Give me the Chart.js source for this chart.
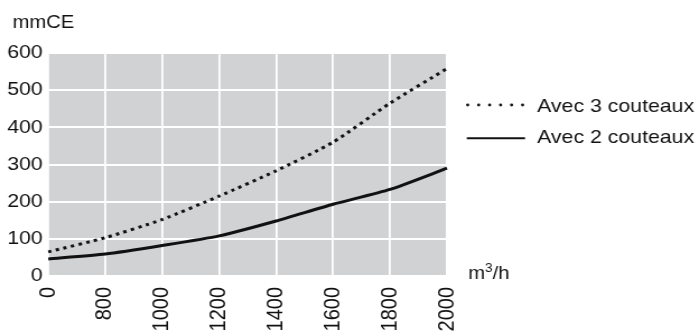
<!DOCTYPE html>
<html>
<head>
<meta charset="utf-8">
<script src="https://cdn.jsdelivr.net/npm/chart.js@4/dist/chart.umd.min.js"></script>
<style>
  html, body { margin: 0; padding: 0; background: #fff; overflow: hidden; }
  #wrap { width: 699px; height: 333px; overflow: hidden; }
  /* the whole figure is drawn slightly narrow and widened horizontally */
  #c { display: block; transform: scaleX(1.1202); transform-origin: 0 0; }
</style>
</head>
<body>
<div id="wrap"><canvas id="c" width="624" height="333"></canvas></div>
<script>
// Débit (m³/h)
const categories = ['0', '800', '1000', '1200', '1400', '1600', '1800', '2000'];
// Perte de charge (mmCE)
const avec3Couteaux = [65, 103, 152, 215, 283, 360, 465, 558];
const avec2Couteaux = [46, 59, 82, 108, 148, 193, 233, 290];
const yMin = 0, yMax = 600, yStep = 100;

const FONT = '"Liberation Sans", Arial, sans-serif';
const INK = '#111111';
const PLOT_BG = '#d1d2d4';

const plotBackground = {
  id: 'plotBackground',
  beforeDraw(chart) {
    const { ctx, chartArea: a } = chart;
    ctx.save();
    ctx.fillStyle = PLOT_BG;
    ctx.fillRect(a.left, a.top, a.right - a.left, a.bottom - a.top);
    ctx.restore();
  }
};

const annotations = {
  id: 'annotations',
  afterDraw(chart) {
    const { ctx } = chart;
    ctx.save();
    ctx.fillStyle = INK;
    ctx.strokeStyle = INK;
    ctx.textBaseline = 'alphabetic';
    ctx.textAlign = 'left';

    // axis titles
    ctx.font = '18px ' + FONT;
    ctx.fillText('mmCE', 11.3, 27.7);
    ctx.fillText('m', 418, 279);
    const mW = ctx.measureText('m').width;
    ctx.font = '12px ' + FONT;
    ctx.fillText('3', 418 + mW, 272);
    const sW = ctx.measureText('3').width;
    ctx.font = '18px ' + FONT;
    ctx.fillText('/h', 418 + mW + sW, 279);

    // legend
    for (let i = 0; i < 6; i++) {
      ctx.beginPath();
      ctx.arc(417.5 + i * 9.8, 105, 1.4, 0, Math.PI * 2);
      ctx.fill();
    }
    ctx.lineWidth = 2;
    ctx.beginPath();
    ctx.moveTo(416.7, 138.3);
    ctx.lineTo(468.7, 138.3);
    ctx.stroke();

    ctx.font = '19px ' + FONT;
    ctx.fillText('Avec 3 couteaux', 479.5, 111.7);
    ctx.fillText('Avec 2 couteaux', 479.5, 143.3);
    ctx.restore();
  }
};

new Chart(document.getElementById('c'), {
  type: 'line',
  data: {
    labels: categories,
    datasets: [
      {
        label: 'Avec 3 couteaux',
        data: avec3Couteaux,
        borderColor: '#111',
        borderWidth: 3,
        borderDash: [3, 4],
        borderCapStyle: 'butt',
        pointRadius: 0,
        tension: 0.2,
        fill: false
      },
      {
        label: 'Avec 2 couteaux',
        data: avec2Couteaux,
        borderColor: '#111',
        borderWidth: 3,
        pointRadius: 0,
        tension: 0.2,
        fill: false
      }
    ]
  },
  options: {
    responsive: false,
    animation: false,
    devicePixelRatio: 1,
    layout: { padding: { left: 0, right: 225, top: 53, bottom: 0 } },
    plugins: {
      legend: { display: false },
      tooltip: { enabled: false },
      title: { display: false }
    },
    scales: {
      x: {
        type: 'category',
        offset: false,
        border: { display: false },
        grid: { color: '#ffffff', lineWidth: 1.8, drawTicks: false },
        ticks: {
          color: INK,
          font: { family: FONT, size: 20 },
          minRotation: 90,
          maxRotation: 90,
          autoSkip: false,
          padding: 11
        },
        afterFit(scale) { scale.height = 57; }
      },
      y: {
        min: yMin,
        max: yMax,
        border: { display: false },
        grid: { color: '#ffffff', lineWidth: 2, drawTicks: false },
        ticks: {
          stepSize: yStep,
          color: INK,
          font: { family: FONT, size: 19 },
          padding: 5
        },
        afterFit(scale) { scale.width = 43.1; }
      }
    }
  },
  plugins: [plotBackground, annotations]
});
</script>
</body>
</html>
